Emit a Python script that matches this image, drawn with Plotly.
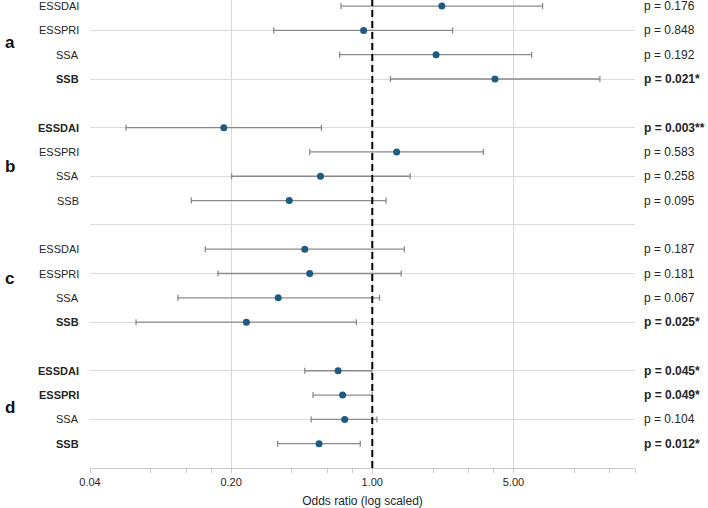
import plotly.graph_objects as go

# ---- data ----
groups = ["a", "b", "c", "d"]
measures = ["ESSDAI", "ESSPRI", "SSA", "SSB"]

or_a = [2.21, 0.906, 2.07, 4.05]
lo_a = [0.700, 0.325, 0.689, 1.23]
hi_a = [6.97, 2.50, 6.15, 13.4]
p_a = ["p = 0.176", "p = 0.848", "p = 0.192", "p = 0.021*"]
sig_a = [False, False, False, True]

or_b = [0.184, 1.32, 0.554, 0.388]
lo_b = [0.0603, 0.490, 0.201, 0.127]
hi_b = [0.560, 3.55, 1.54, 1.17]
p_b = ["p = 0.003**", "p = 0.583", "p = 0.258", "p = 0.095"]
sig_b = [True, False, False, False]

or_c = [0.463, 0.490, 0.342, 0.238]
lo_c = [0.149, 0.172, 0.109, 0.0676]
hi_c = [1.44, 1.39, 1.087, 0.834]
p_c = ["p = 0.187", "p = 0.181", "p = 0.067", "p = 0.025*"]
sig_c = [False, False, False, True]

or_d = [0.677, 0.713, 0.730, 0.545]
lo_d = [0.463, 0.509, 0.498, 0.340]
hi_d = [0.996, 0.998, 1.054, 0.872]
p_d = ["p = 0.045*", "p = 0.049*", "p = 0.104", "p = 0.012*"]
sig_d = [True, True, False, True]

tick_vals = [0.04, 0.2, 1, 5]
tick_text = ["0.04", "0.20", "1.00", "5.00"]
minor_vals = [0.08, 0.12, 0.16, 0.4, 0.6, 0.8, 2, 3, 4, 10, 15, 20]

# ---- assemble rows (top to bottom) ----
all_or = or_a + or_b + or_c + or_d
all_lo = lo_a + lo_b + lo_c + lo_d
all_hi = hi_a + hi_b + hi_c + hi_d
all_p = p_a + p_b + p_c + p_d
all_sig = sig_a + sig_b + sig_c + sig_d
all_lab = measures * 4

ypos = []
for g in range(4):
    base = 19 - g * 5
    for k in range(4):
        ypos.append(base - k)

fig = go.Figure()

fig.add_trace(go.Scatter(
    x=all_or, y=ypos, mode="markers",
    marker=dict(color="#1d5b82", size=7),
    error_x=dict(type="data", symmetric=False,
                 array=[h - o for h, o in zip(all_hi, all_or)],
                 arrayminus=[o - l for o, l in zip(all_or, all_lo)],
                 color="#8a8a8a", thickness=1.3, width=3),
    hoverinfo="skip", showlegend=False,
))

FONT = "Liberation Sans"
TXT = "#262626"
L, R = 89.5, 73
pw = 708 - L - R


def px(x):
    return (x - L) / pw


ann = []
for y, lab, p, s in zip(ypos, all_lab, all_p, all_sig):
    t = f"<b>{lab}</b>" if s else lab
    ann.append(dict(x=px(80), xref="paper", y=y, yref="y", text=t, showarrow=False,
                    xanchor="right", yanchor="middle",
                    font=dict(family=FONT, size=11, color=TXT)))
    tp = f"<b>{p}</b>" if s else p
    ann.append(dict(x=px(642), xref="paper", y=y, yref="y", text=tp, showarrow=False,
                    xanchor="left", yanchor="middle",
                    font=dict(family=FONT, size=12, color=TXT)))

group_y = [17.5, 12.4, 7.8, 2.5]
for g, gy in zip(groups, group_y):
    ann.append(dict(x=px(9), xref="paper", y=gy, yref="y", text=f"<b>{g}</b>",
                    showarrow=False, xanchor="center", yanchor="middle",
                    font=dict(family=FONT, size=17, color="#111")))

fig.update_layout(
    width=708, height=508,
    margin=dict(l=L, r=R, t=0, b=40),
    plot_bgcolor="white", paper_bgcolor="white",
    font=dict(family=FONT, size=11, color=TXT),
    annotations=ann,
    shapes=[dict(type="line", xref="x", yref="paper", x0=1, x1=1, y0=0, y1=1,
                 line=dict(color="black", width=2, dash="7px,4px"), layer="above")],
    xaxis=dict(type="log", range=[-1.39794, 1.30103],
               tickmode="array", tickvals=tick_vals, ticktext=tick_text,
               showgrid=True, gridcolor="#d9d9d9", gridwidth=1,
               showline=True, linecolor="#c8c8c8", linewidth=1,
               ticks="outside", ticklen=4, tickcolor="#c8c8c8",
               tickfont=dict(family=FONT, size=11, color=TXT),
               minor=dict(tickmode="array", tickvals=minor_vals, ticks="outside",
                          ticklen=4, tickcolor="#c8c8c8", showgrid=False),
               title=dict(text="Odds ratio (log scaled)", standoff=9,
                          font=dict(family=FONT, size=12, color=TXT)),
               zeroline=False),
    yaxis=dict(range=[0, 19.25], tickmode="array",
               tickvals=[2, 4, 6, 8, 10, 12, 14, 16, 18],
               showticklabels=False, showgrid=True, gridcolor="#dcdcdc",
               gridwidth=1, zeroline=False, showline=False),
)

fig.write_html("out.html", config={"displayModeBar": False},
               post_script="document.body.style.margin='0';document.body.style.overflow='hidden';")
